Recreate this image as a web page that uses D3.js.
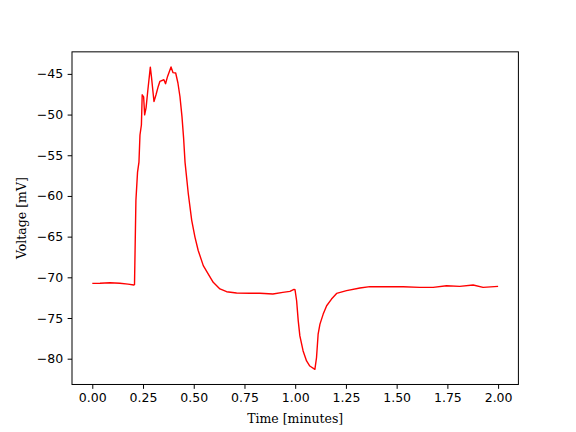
<!DOCTYPE html>
<html>
<head>
<meta charset="utf-8">
<script src="https://cdn.jsdelivr.net/npm/d3@7"></script>
<style>
  html, body { margin: 0; padding: 0; background: #fff; }
  svg { display: block; }
</style>
</head>
<body>
<svg id="chart" width="576" height="432"></svg>
<script>
// Time in minutes
const times = [0.000, 0.038, 0.087, 0.136, 0.176, 0.205, 0.208, 0.215, 0.223, 0.230, 0.235, 0.242,
  0.246, 0.253, 0.258, 0.265, 0.274, 0.286, 0.292, 0.304, 0.314, 0.325, 0.333, 0.353, 0.361,
  0.371, 0.388, 0.398, 0.411, 0.422, 0.432, 0.442, 0.450, 0.457, 0.473, 0.490, 0.506, 0.522,
  0.547, 0.571, 0.596, 0.629, 0.662, 0.711, 0.777, 0.826, 0.890, 0.939, 0.974, 0.994, 0.999,
  1.007, 1.015, 1.023, 1.039, 1.056, 1.072, 1.097, 1.105, 1.113, 1.122, 1.138, 1.155, 1.179,
  1.204, 1.253, 1.319, 1.368, 1.450, 1.532, 1.614, 1.680, 1.746, 1.811, 1.877, 1.926, 2.000];
// Voltage in mV
const voltages = [-70.74, -70.72, -70.66, -70.73, -70.84, -70.94, -70.90, -60.53, -57.07, -55.84, -52.51, -51.28,
  -47.57, -47.82, -50.04, -49.17, -46.95, -44.17, -45.47, -48.40, -47.57, -46.54, -45.93, -45.72, -46.21,
  -45.31, -44.15, -44.85, -44.89, -46.12, -47.78, -50.25, -52.88, -55.84, -59.70, -63.00, -65.06, -66.70,
  -68.56, -69.58, -70.62, -71.43, -71.77, -71.93, -71.96, -71.95, -72.05, -71.85, -71.73, -71.48, -71.52,
  -72.88, -75.35, -77.20, -79.05, -80.28, -80.90, -81.31, -79.88, -76.99, -75.75, -74.52, -73.49, -72.67,
  -71.98, -71.64, -71.31, -71.15, -71.15, -71.15, -71.23, -71.23, -71.03, -71.11, -70.94, -71.23, -71.11];
const xTicks = [0, 0.25, 0.5, 0.75, 1.0, 1.25, 1.5, 1.75, 2.0];
const yTicks = [-80, -75, -70, -65, -60, -55, -50, -45];
const xLabel = "Time [minutes]";
const yLabel = "Voltage [mV]";

const W = 576, H = 432;
const mLeft = 72, mRight = 518.4, mTop = 51.84, mBottom = 384.48;
const pt = 90 / 72;

const xMin = d3.min(times), xMax = d3.max(times);
const yMin = d3.min(voltages), yMax = d3.max(voltages);
const xPad = (xMax - xMin) * 0.05, yPad = (yMax - yMin) * 0.05;

const x = d3.scaleLinear().domain([xMin - xPad, xMax + xPad]).range([mLeft, mRight]);
const y = d3.scaleLinear().domain([yMin - yPad, yMax + yPad]).range([mBottom, mTop]);

const svg = d3.select("#chart");
svg.append("rect").attr("width", W).attr("height", H).attr("fill", "#fff");

const data = times.map((t, i) => [t, voltages[i]]);
const line = d3.line().x(d => x(d[0])).y(d => y(d[1]));

svg.append("path")
  .datum(data)
  .attr("d", line)
  .attr("fill", "none")
  .attr("stroke", "#ff0000")
  .attr("stroke-width", 1.4)
  .attr("stroke-linejoin", "round");

const fmtMinus = s => s.replace("-", "\u2212");

const xAxis = svg.append("g")
  .attr("transform", `translate(0,${mBottom})`)
  .call(d3.axisBottom(x).tickValues(xTicks).tickFormat(d3.format(".2f"))
    .tickSize(3.5 * pt).tickPadding(3.5 * pt));
const yAxis = svg.append("g")
  .attr("transform", `translate(${mLeft},0)`)
  .call(d3.axisLeft(y).tickValues(yTicks).tickFormat(d => fmtMinus(d3.format("d")(d)))
    .tickSize(3.5 * pt).tickPadding(3.5 * pt));

[xAxis, yAxis].forEach(g => {
  g.select(".domain").remove();
  g.selectAll(".tick line").attr("stroke", "#000").attr("stroke-width", 0.8 * pt);
  g.selectAll(".tick text").attr("fill", "#000")
    .style("font-family", "'DejaVu Sans', sans-serif").style("font-size", (10 * pt) + "px");
});

svg.append("rect")
  .attr("x", mLeft).attr("y", mTop)
  .attr("width", mRight - mLeft).attr("height", mBottom - mTop)
  .attr("fill", "none").attr("stroke", "#000").attr("stroke-width", 0.8 * pt);

svg.append("text")
  .attr("x", (mLeft + mRight) / 2).attr("y", 423)
  .attr("text-anchor", "middle")
  .style("font-family", "'DejaVu Serif', serif").style("font-size", (10 * pt) + "px")
  .text(xLabel);

svg.append("text")
  .attr("transform", `translate(26,${(mTop + mBottom) / 2}) rotate(-90)`)
  .attr("text-anchor", "middle")
  .style("font-family", "'DejaVu Serif', serif").style("font-size", (10 * pt) + "px")
  .text(yLabel);
</script>
</body>
</html>
